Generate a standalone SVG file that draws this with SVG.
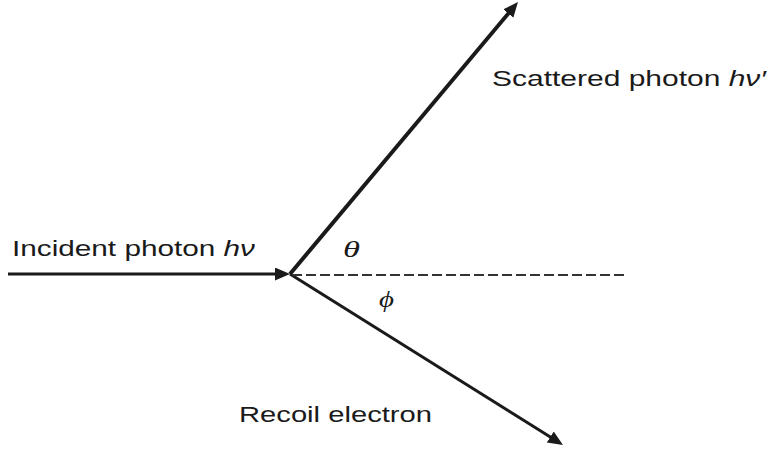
<svg xmlns="http://www.w3.org/2000/svg" width="771" height="452" viewBox="0 0 771 452">
  <style>
    .lbl { font-family: "Liberation Sans", Arial, sans-serif; font-size: 22px; fill: #1a1a1a; }
    .it { font-style: italic; }
    .greek { font-family: "Liberation Serif", "Times New Roman", serif; font-style: italic; font-size: 23px; fill: #1a1a1a; }
    .ray { stroke: #1a1a1a; fill: none; stroke-linecap: butt; }
    .dash { stroke: #333; stroke-width: 2; stroke-dasharray: 10 4; fill: none; }
  </style>
  <defs>
    <marker id="ah" markerUnits="userSpaceOnUse" markerWidth="18" markerHeight="16" refX="9" refY="6.5" orient="auto">
      <path d="M0,0 L15,6.5 L0,13 Z" fill="#1a1a1a"/>
    </marker>
  </defs>
  <rect width="771" height="452" fill="#ffffff"/>
  <g id="connectors">
    <line class="ray" x1="8" y1="274" x2="284" y2="274" stroke-width="3" marker-end="url(#ah)"/>
    <line class="ray" x1="290" y1="274" x2="514.1" y2="6.6" stroke-width="4" marker-end="url(#ah)"/>
    <line class="ray" x1="290" y1="274" x2="557.9" y2="441.8" stroke-width="3" marker-end="url(#ah)"/>
    <line class="dash" x1="292" y1="275" x2="628" y2="275"/>
  </g>
  <g id="incident">
    <text class="lbl" x="12" y="256" textLength="243" lengthAdjust="spacingAndGlyphs">Incident photon <tspan class="it">hν</tspan></text>
  </g>
  <g id="scattered">
    <text class="lbl" x="492" y="86" textLength="274" lengthAdjust="spacingAndGlyphs">Scattered photon <tspan class="it">hν′</tspan></text>
  </g>
  <g id="recoil">
    <text class="lbl" x="239" y="422" textLength="193" lengthAdjust="spacingAndGlyphs">Recoil electron</text>
  </g>
  <g id="theta">
    <text class="greek" x="343" y="257" textLength="17" lengthAdjust="spacingAndGlyphs">θ</text>
  </g>
  <g id="phi">
    <text class="greek" x="379" y="307" textLength="15" lengthAdjust="spacingAndGlyphs">ϕ</text>
  </g>
</svg>
